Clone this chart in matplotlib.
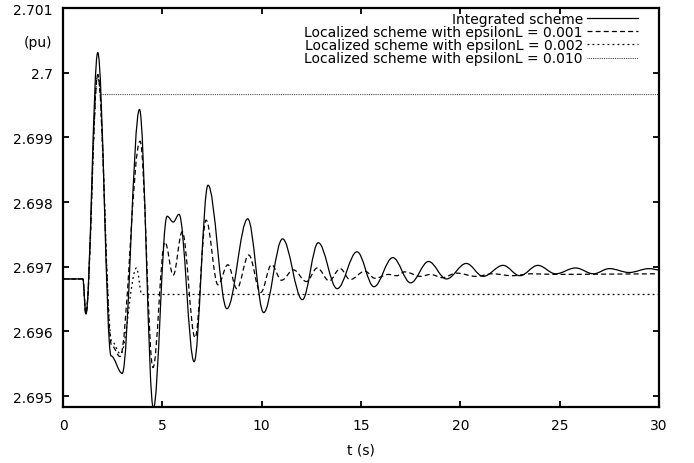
import matplotlib
matplotlib.use("Agg")
import matplotlib.pyplot as plt
from matplotlib.path import Path
from matplotlib.patches import PathPatch
from matplotlib.ticker import FuncFormatter, MultipleLocator

plt.rcParams["font.family"] = ["DejaVu Sans"]

# turning points (t in s, value in pu)
# integrated scheme (solid)
t_int = [0, 1.0, 1.15, 1.75, 2.42, 2.98, 3.85, 4.55, 5.24, 5.55, 5.84, 6.6, 7.3, 8.25,
         9.3, 10.1, 11.05, 12.05, 12.85, 13.8, 14.8, 15.65, 16.6, 17.5, 18.4, 19.3, 20.3,
         21.15, 22.15, 23.0, 23.9, 24.8, 25.8, 26.7, 27.5, 28.5, 29.5, 30.0]
v_int = [2.69681, 2.69681, 2.69627, 2.70031, 2.69562, 2.69535, 2.69943, 2.69481, 2.69778,
         2.69769, 2.69781, 2.69553, 2.69826, 2.69635, 2.69774, 2.69629, 2.69743, 2.69649,
         2.69737, 2.69666, 2.69723, 2.69669, 2.69714, 2.69675, 2.69708, 2.69681, 2.69705,
         2.69685, 2.69702, 2.69686, 2.69702, 2.69689, 2.69698, 2.69689, 2.69697, 2.69691,
         2.69697, 2.69695]

# localized, epsilonL = 0.001 (dashed)
t_001 = [0, 1.0, 1.15, 1.75, 2.45, 2.87, 3.88, 4.53, 5.13, 5.55, 6.0, 6.65, 7.2, 7.8,
         8.3, 8.75, 9.35, 9.95, 10.5, 11.0, 11.6, 12.25, 12.8, 13.4, 13.95, 14.45, 15.2,
         15.7, 16.4, 16.8, 17.2, 18.0, 18.5, 19.1, 19.8, 20.8, 21.6, 22.6, 23.6, 24.8, 30.0]
v_001 = [2.69681, 2.69681, 2.69627, 2.69997, 2.69578, 2.69561, 2.69894, 2.69544, 2.69738,
         2.69687, 2.69754, 2.69590, 2.69772, 2.69672, 2.69703, 2.69666, 2.69718, 2.69660,
         2.69703, 2.69679, 2.69695, 2.69677, 2.69698, 2.69678, 2.69697, 2.69680, 2.69693,
         2.69682, 2.69688, 2.69686, 2.69692, 2.69685, 2.69688, 2.69683, 2.69690, 2.69685,
         2.69689, 2.69686, 2.69689, 2.69688, 2.69689]

# localized, epsilonL = 0.002 (dotted)
t_002 = [0, 1.0, 1.15, 1.75, 2.45, 2.9, 3.7, 3.97, 30.0]
v_002 = [2.69681, 2.69681, 2.69627, 2.69997, 2.69585, 2.69565, 2.69698, 2.69657, 2.69657]

# localized, epsilonL = 0.010 (fine dots)
t_010 = [0, 1.0, 1.15, 1.75, 1.9, 30.0]
v_010 = [2.69681, 2.69681, 2.69627, 2.69995, 2.69966, 2.69966]

labels = ["Integrated scheme",
          "Localized scheme with epsilonL = 0.001",
          "Localized scheme with epsilonL = 0.002",
          "Localized scheme with epsilonL = 0.010"]


def smooth(t, v, k=0.363):
    # cubic bezier between turning points, flat tangent at each one
    verts = [(t[0], v[0])]
    codes = [Path.MOVETO]
    for i in range(1, len(t)):
        dt = t[i] - t[i - 1]
        verts += [(t[i - 1] + k * dt, v[i - 1]), (t[i] - k * dt, v[i]), (t[i], v[i])]
        codes += [Path.CURVE4] * 3
    return Path(verts, codes)


fig = plt.figure(figsize=(6.94, 4.64), dpi=100)
ax = fig.add_axes([63 / 694, 1 - 408 / 464, 596 / 694, 399 / 464])

styles = [dict(lw=0.9, ls="-"),
          dict(lw=0.9, ls=(0, (4, 2.5))),
          dict(lw=0.9, ls=(0, (1.5, 2.5))),
          dict(lw=0.6, ls=(0, (1, 1.2)))]
series = [(t_int, v_int), (t_001, v_001), (t_002, v_002), (t_010, v_010)]

for (t, v), st, lab in zip(series, styles, labels):
    ax.add_patch(PathPatch(smooth(t, v), fill=False, edgecolor="black",
                           linewidth=st["lw"], linestyle=st["ls"]))
    ax.plot([], [], color="black", linewidth=st["lw"], linestyle=st["ls"], label=lab)

ax.set_xlim(0, 30)
ax.set_ylim(2.69483, 2.701)
ax.xaxis.set_major_locator(MultipleLocator(5))
ax.yaxis.set_major_locator(MultipleLocator(0.001))
ax.yaxis.set_major_formatter(FuncFormatter(lambda v, p: "%g" % round(v, 3)))

for s in ax.spines.values():
    s.set_linewidth(1.6)
ax.tick_params(direction="in", length=4, width=1.3, top=True, right=True,
               labelsize=10)
ax.tick_params(axis="x", pad=8)
ax.tick_params(axis="y", pad=7.5)

ax.set_xlabel("t (s)", fontsize=10, labelpad=7.5)
ax.text(-0.0185, 0.914, "(pu)", transform=ax.transAxes, ha="right", va="center",
        fontsize=10)

leg = ax.legend(loc="upper right", bbox_to_anchor=(0.9648, 0.99), frameon=False,
                markerfirst=False, fontsize=10, handlelength=3.67, labelspacing=-0.06,
                borderpad=0, borderaxespad=0, handletextpad=0.3)

fig.savefig("out.png", dpi=100)
